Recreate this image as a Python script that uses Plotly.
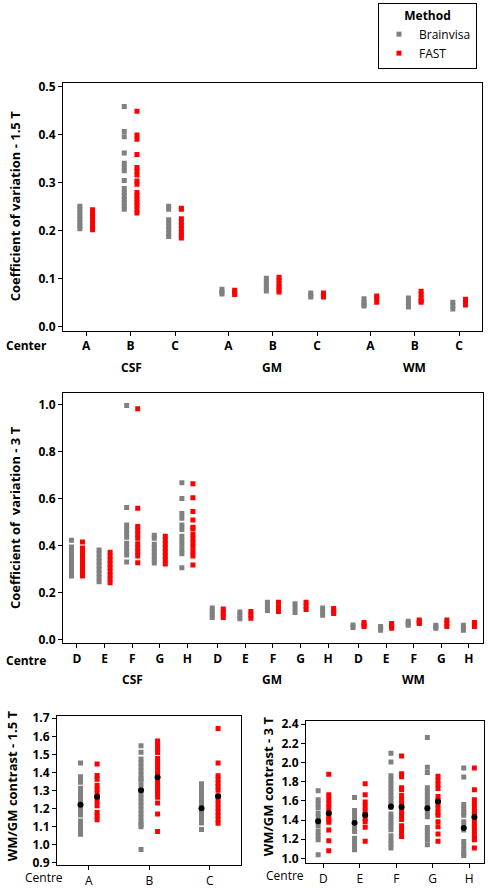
import plotly.graph_objects as go

# ---------------- data ----------------
# Coefficient of variation - 1.5 T  (order: CSF A,B,C ; GM A,B,C ; WM A,B,C)
cv15_tissues = ["CSF", "GM", "WM"]
cv15_centers = ["A", "B", "C"]
cv15_brainvisa = [
    [0.251, 0.245, 0.237, 0.230, 0.224, 0.217, 0.210, 0.204],
    [0.459, 0.407, 0.396, 0.362, 0.341, 0.333, 0.325, 0.305, 0.288, 0.280, 0.272, 0.265, 0.258, 0.251, 0.245],
    [0.251, 0.245, 0.223, 0.216, 0.209, 0.202, 0.195, 0.188],
    [0.078, 0.072, 0.068],
    [0.101, 0.094, 0.087, 0.081, 0.0745],
    [0.070, 0.065, 0.062],
    [0.058, 0.051, 0.046, 0.043],
    [0.060, 0.053, 0.047, 0.041],
    [0.051, 0.044, 0.037],
]
cv15_fast = [
    [0.244, 0.237, 0.230, 0.222, 0.215, 0.208, 0.202],
    [0.449, 0.3995, 0.391, 0.359, 0.332, 0.324, 0.316, 0.304, 0.297, 0.280, 0.273, 0.266, 0.259, 0.252, 0.244, 0.237],
    [0.247, 0.245, 0.225, 0.218, 0.211, 0.204, 0.197, 0.191, 0.185],
    [0.076, 0.071, 0.067],
    [0.103, 0.096, 0.089, 0.083, 0.077, 0.072],
    [0.070, 0.066, 0.062],
    [0.064, 0.058, 0.051],
    [0.074, 0.067, 0.060, 0.054, 0.051],
    [0.057, 0.051, 0.045],
]

# Coefficient of variation - 3 T  (order: CSF D..H ; GM D..H ; WM D..H)
cv3_tissues = ["CSF", "GM", "WM"]
cv3_centres = ["D", "E", "F", "G", "H"]
cv3_brainvisa = [
    [0.422, 0.393, 0.376, 0.360, 0.343, 0.327, 0.311, 0.295, 0.282, 0.270],
    [0.380, 0.364, 0.347, 0.331, 0.314, 0.297, 0.280, 0.262, 0.245],
    [0.996, 0.561, 0.487, 0.470, 0.452, 0.435, 0.409, 0.392, 0.375, 0.359, 0.329],
    [0.443, 0.430, 0.405, 0.389, 0.373, 0.357, 0.341, 0.325],
    [0.667, 0.600, 0.536, 0.516, 0.487, 0.468, 0.439, 0.420, 0.401, 0.382, 0.364, 0.305],
    [0.133, 0.120, 0.107, 0.093],
    [0.116, 0.102, 0.088],
    [0.158, 0.141, 0.123],
    [0.152, 0.133, 0.114],
    [0.133, 0.118, 0.103],
    [0.061, 0.051],
    [0.055, 0.047, 0.039],
    [0.077, 0.068, 0.060],
    [0.060, 0.053, 0.047],
    [0.060, 0.050, 0.039],
]
cv3_fast = [
    [0.414, 0.389, 0.372, 0.356, 0.340, 0.323, 0.306, 0.290, 0.278, 0.270],
    [0.371, 0.355, 0.338, 0.322, 0.306, 0.289, 0.273, 0.257, 0.241],
    [0.982, 0.558, 0.481, 0.464, 0.447, 0.430, 0.407, 0.390, 0.372, 0.355, 0.326],
    [0.439, 0.423, 0.406, 0.389, 0.372, 0.355, 0.338, 0.321],
    [0.663, 0.603, 0.544, 0.508, 0.477, 0.470, 0.446, 0.428, 0.410, 0.392, 0.373, 0.355, 0.317],
    [0.129, 0.117, 0.105, 0.093],
    [0.119, 0.105, 0.090],
    [0.158, 0.139, 0.119],
    [0.158, 0.142, 0.127],
    [0.131, 0.120, 0.110],
    [0.072, 0.063, 0.055],
    [0.068, 0.057, 0.047],
    [0.082, 0.074, 0.068],
    [0.082, 0.068, 0.055],
    [0.072, 0.063, 0.055],
]

# WM/GM contrast - 1.5 T
con15_centres = ["A", "B", "C"]
con15_brainvisa = [
    [1.452, 1.375, 1.360, 1.345, 1.312, 1.290, 1.268, 1.246, 1.224, 1.204, 1.184, 1.163,
     1.130, 1.110, 1.090, 1.072, 1.056],
    [1.548, 1.512, 1.474, 1.452, 1.430, 1.408, 1.386, 1.365, 1.356, 1.330, 1.301, 1.280,
     1.258, 1.236, 1.214, 1.192, 1.170, 1.148, 1.126, 1.110, 1.098, 0.972],
    [1.337, 1.315, 1.293, 1.271, 1.249, 1.227, 1.205, 1.183, 1.161, 1.140, 1.119, 1.083],
]
con15_fast = [
    [1.446, 1.383, 1.361, 1.328, 1.306, 1.284, 1.262, 1.240, 1.214, 1.177, 1.157, 1.137],
    [1.574, 1.552, 1.530, 1.510, 1.477, 1.455, 1.433, 1.411, 1.389, 1.367, 1.345, 1.323,
     1.301, 1.280, 1.262, 1.230, 1.169, 1.071],
    [1.644, 1.452, 1.381, 1.360, 1.340, 1.320, 1.301, 1.268, 1.246, 1.224, 1.202, 1.180,
     1.160, 1.138, 1.117],
]
con15_brainvisa_mean = [1.220, 1.300, 1.200]
con15_fast_mean = [1.264, 1.373, 1.267]

# WM/GM contrast - 3 T
con3_centres = ["D", "E", "F", "G", "H"]
con3_brainvisa = [
    [1.705, 1.612, 1.570, 1.527, 1.469, 1.425, 1.380, 1.340, 1.285, 1.240, 1.194, 1.039],
    [1.635, 1.499, 1.455, 1.410, 1.383, 1.314, 1.280, 1.211, 1.170, 1.130, 1.091],
    [2.098, 2.007, 1.863, 1.820, 1.777, 1.735, 1.692, 1.650, 1.607, 1.565, 1.530, 1.462,
     1.420, 1.378, 1.340, 1.300, 1.235, 1.190, 1.150, 1.108],
    [2.261, 1.952, 1.897, 1.736, 1.693, 1.650, 1.607, 1.565, 1.522, 1.478, 1.434, 1.321,
     1.280, 1.238, 1.195, 1.143],
    [1.942, 1.849, 1.561, 1.518, 1.475, 1.451, 1.382, 1.340, 1.297, 1.177, 1.135, 1.090,
     1.050, 1.029],
]
con3_fast = [
    [1.878, 1.664, 1.620, 1.575, 1.530, 1.485, 1.440, 1.400, 1.376, 1.297, 1.183, 1.080],
    [1.779, 1.664, 1.589, 1.545, 1.500, 1.455, 1.410, 1.383, 1.324, 1.180],
    [2.069, 1.882, 1.853, 1.736, 1.720, 1.658, 1.615, 1.572, 1.530, 1.488, 1.447, 1.406,
     1.341, 1.300, 1.260, 1.228],
    [1.856, 1.813, 1.770, 1.728, 1.645, 1.602, 1.560, 1.518, 1.476, 1.451, 1.382, 1.331,
     1.255, 1.180],
    [1.942, 1.715, 1.612, 1.570, 1.527, 1.485, 1.455, 1.412, 1.370, 1.330, 1.290, 1.250,
     1.210, 1.194, 1.108],
]
con3_brainvisa_mean = [1.388, 1.370, 1.542, 1.522, 1.316]
con3_fast_mean = [1.470, 1.453, 1.535, 1.594, 1.432]

# ---------------- styling / layout helpers ----------------
GRAY = "#808080"
RED = "#ff0000"
W, H = 493, 891
FONT = "Open Sans"


def xdom(a, b):
    return [a / W, b / W]


def ydom(top, bottom):
    return [1 - bottom / H, 1 - top / H]


fig = go.Figure()


def add_groups(values, positions, offset, color, name, xa, ya, show):
    xs, ys = [], []
    for pos, vals in zip(positions, values):
        xs += [pos + offset] * len(vals)
        ys += vals
    fig.add_trace(go.Scatter(
        x=xs, y=ys, mode="markers", name=name, legendgroup=name, showlegend=show,
        marker=dict(symbol="square", size=5, color=color, line=dict(width=0), opacity=1),
        xaxis=xa, yaxis=ya, hoverinfo="y"))


def add_means(means, positions, offset, xa, ya):
    fig.add_trace(go.Scatter(
        x=[p + offset for p in positions], y=means, mode="markers", showlegend=False,
        marker=dict(symbol="circle", size=6, color="black", line=dict(width=0)),
        xaxis=xa, yaxis=ya, hoverinfo="y"))


# plot 1 positions
pos1, lab1 = [], []
for t, _ in enumerate(cv15_tissues):
    for c, cen in enumerate(cv15_centers):
        pos1.append(t * 3.2 + c)
        lab1.append(cen)
add_groups(cv15_brainvisa, pos1, -0.143, GRAY, "Brainvisa", "x", "y", True)
add_groups(cv15_fast, pos1, 0.143, RED, "FAST", "x", "y", True)

# plot 2 positions
pos2, lab2 = [], []
for t, _ in enumerate(cv3_tissues):
    for c, cen in enumerate(cv3_centres):
        pos2.append(t * 5.1 + c)
        lab2.append(cen)
add_groups(cv3_brainvisa, pos2, -0.2, GRAY, "Brainvisa", "x2", "y2", False)
add_groups(cv3_fast, pos2, 0.2, RED, "FAST", "x2", "y2", False)

# plot 3
pos3 = list(range(len(con15_centres)))
add_groups(con15_brainvisa, pos3, -0.137, GRAY, "Brainvisa", "x3", "y3", False)
add_groups(con15_fast, pos3, 0.137, RED, "FAST", "x3", "y3", False)
add_means(con15_brainvisa_mean, pos3, -0.137, "x3", "y3")
add_means(con15_fast_mean, pos3, 0.137, "x3", "y3")

# plot 4
pos4 = list(range(len(con3_centres)))
add_groups(con3_brainvisa, pos4, -0.146, GRAY, "Brainvisa", "x4", "y4", False)
add_groups(con3_fast, pos4, 0.146, RED, "FAST", "x4", "y4", False)
add_means(con3_brainvisa_mean, pos4, -0.146, "x4", "y4")
add_means(con3_fast_mean, pos4, 0.146, "x4", "y4")

bold_tick = dict(family=FONT, size=12, color="black", weight="bold")
norm_tick = dict(family=FONT, size=12, color="black")

axis_common = dict(showline=True, mirror=True, linecolor="black", linewidth=1,
                   ticks="outside", ticklen=4, tickcolor="black", tickwidth=1,
                   showgrid=False, zeroline=False, fixedrange=True)

fig.update_layout(
    width=W, height=H, margin=dict(l=0, r=0, t=0, b=0),
    paper_bgcolor="white", plot_bgcolor="white",
    font=dict(family=FONT, color="black"),
    xaxis=dict(domain=xdom(63, 482), range=[-0.523, 8.914], anchor="y",
               tickvals=pos1, ticktext=lab1, tickfont=bold_tick, **axis_common),
    yaxis=dict(domain=ydom(77, 328), range=[-0.0082, 0.5082], anchor="x",
               tickvals=[0, 0.1, 0.2, 0.3, 0.4, 0.5], tickformat=".1f",
               tickfont=bold_tick, **axis_common),
    xaxis2=dict(domain=xdom(63, 483), range=[-0.507, 14.71], anchor="y2",
                tickvals=pos2, ticktext=lab2, tickfont=bold_tick, **axis_common),
    yaxis2=dict(domain=ydom(391, 645), range=[-0.0168, 1.050], anchor="x2",
                tickvals=[0, 0.2, 0.4, 0.6, 0.8, 1.0], tickformat=".1f",
                tickfont=bold_tick, **axis_common),
    xaxis3=dict(domain=xdom(57, 241), range=[-0.526, 2.516], anchor="y3",
                tickvals=pos3, ticktext=con15_centres, tickfont=norm_tick, **axis_common),
    yaxis3=dict(domain=ydom(719, 870), range=[0.884, 1.711], anchor="x3",
                tickvals=[0.9, 1.0, 1.1, 1.2, 1.3, 1.4, 1.5, 1.6, 1.7], tickformat=".1f",
                tickfont=bold_tick, **axis_common),
    xaxis4=dict(domain=xdom(306, 484), range=[-0.48, 4.41], anchor="y4",
                tickvals=pos4, ticktext=con3_centres, tickfont=norm_tick, **axis_common),
    yaxis4=dict(domain=ydom(724, 868), range=[0.9485, 2.431], anchor="x4",
                tickvals=[1.0, 1.2, 1.4, 1.6, 1.8, 2.0, 2.2, 2.4], tickformat=".1f",
                tickfont=bold_tick, **axis_common),
    legend=dict(x=378 / W, xanchor="left", y=1 + 4 / H, yanchor="top",
                bordercolor="black", borderwidth=1, bgcolor="white",
                font=dict(family=FONT, size=12, color="black"),
                title=dict(text="<b>Method</b>", side="top center",
                           font=dict(family=FONT, size=12, color="black")),
                tracegroupgap=0, itemwidth=30),
)

ann = []


def txt(x, y, s, size=12, bold=True, angle=0):
    ann.append(dict(x=x / W, y=1 - y / H, xref="paper", yref="paper", text=s,
                    showarrow=False, xanchor="center", yanchor="middle", textangle=angle,
                    font=dict(family=FONT, size=size, color="black",
                              weight="bold" if bold else "normal")))


# y-axis titles
txt(15, 202, "Coefficient of variation - 1.5 T", size=13, angle=-90)
txt(15, 518, "Coefficient of\u00a0 variation - 3 T", size=13, angle=-90)
txt(12, 790, "WM/GM contrast - 1.5 T", size=13, angle=-90)
txt(268, 790, "WM/GM contrast - 3 T", size=13, angle=-90)
# row labels
txt(26, 343, "Center")
txt(26, 662, "Centre")
txt(44, 882, "Centre", bold=False)
txt(285, 880, "Centre", bold=False)
# tissue group labels
for x, s in zip([131, 272, 414], cv15_tissues):
    txt(x, 365, s)
for x, s in zip([132, 272, 413], cv3_tissues):
    txt(x, 682, s)

fig.update_layout(annotations=ann)

fig.write_html("out.html",
               config={"displayModeBar": False},
               post_script="document.body.style.margin='0px';"
                           "document.body.style.overflow='hidden';")
